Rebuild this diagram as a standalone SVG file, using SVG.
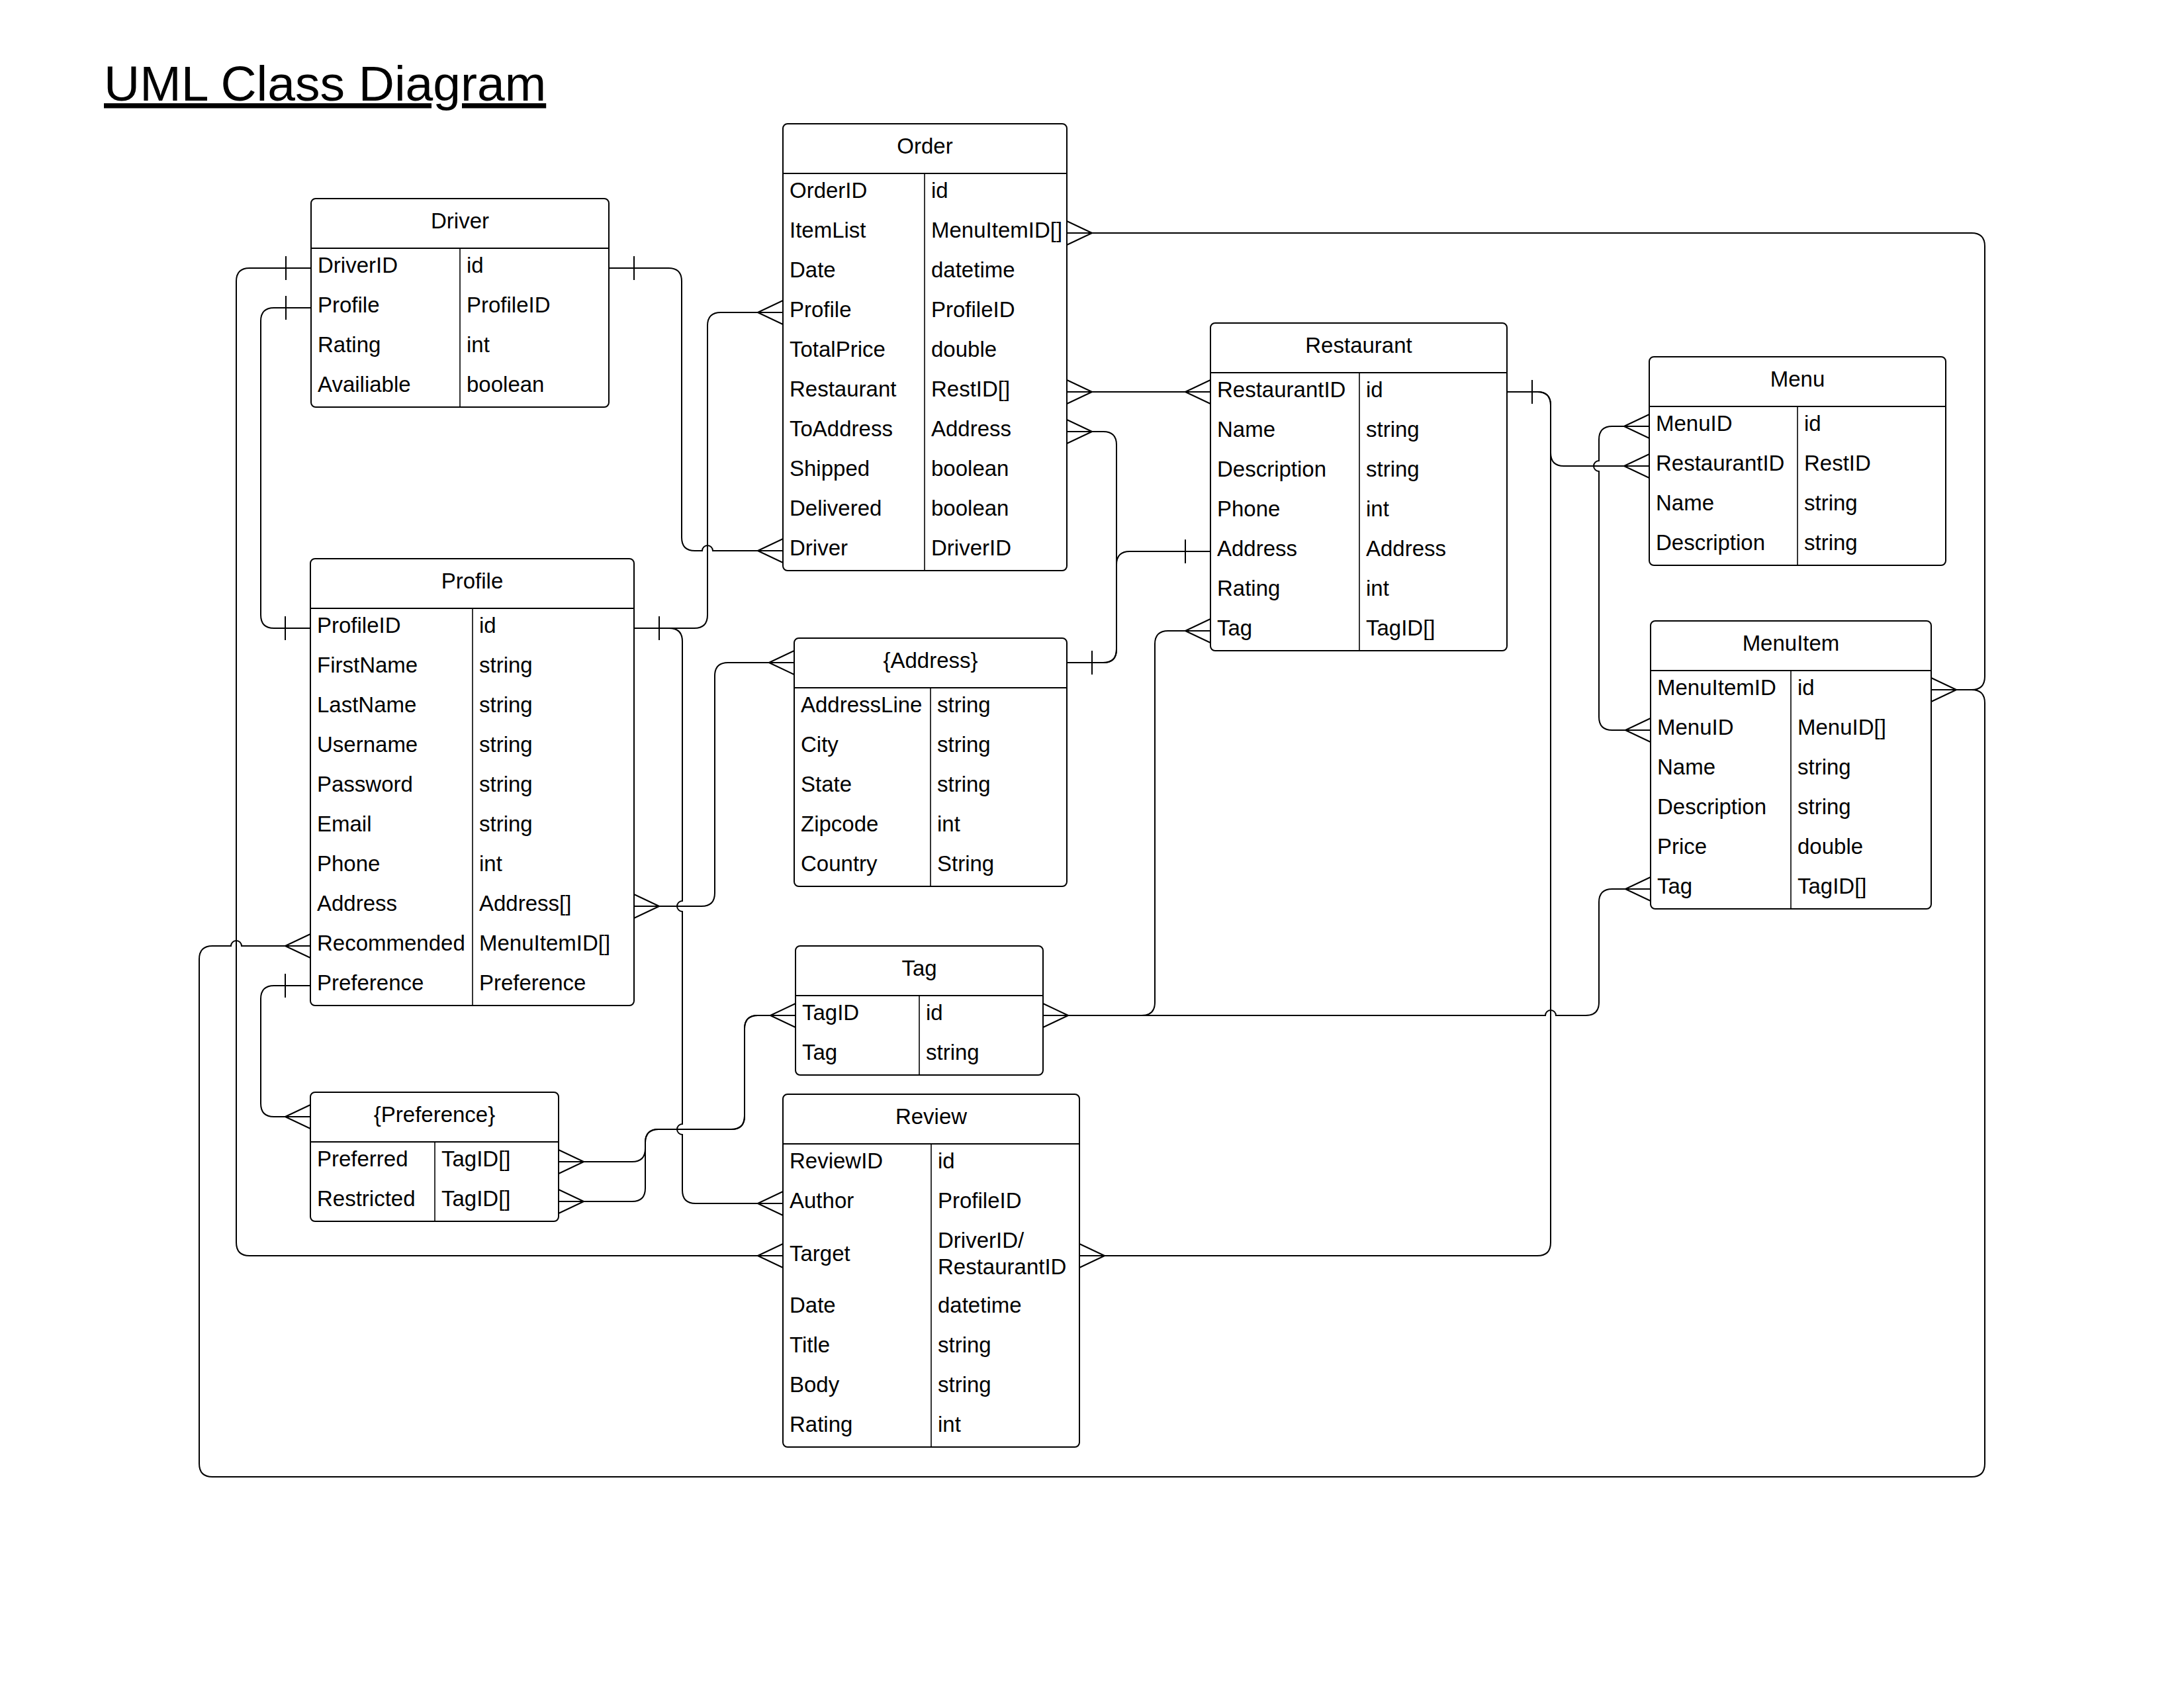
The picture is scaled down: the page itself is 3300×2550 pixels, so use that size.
<svg xmlns="http://www.w3.org/2000/svg" xmlns:xlink="http://www.w3.org/1999/xlink" width="3300" height="2550" viewBox="0 0 3300 2550">
<style>
.bg{fill:#fff}
.box{fill:#fff;stroke:#000;stroke-width:2}
.sep{stroke:#000;stroke-width:2}
.dv{stroke:#000;stroke-width:1.6}
text{font-family:"Liberation Sans",Arial,sans-serif;font-size:33px;fill:#000}
.h{text-anchor:middle}
.title{font-size:75px;text-decoration:underline}
.c{fill:none;stroke:#000;stroke-width:2}
.m{fill:none;stroke:#000;stroke-width:2}
</style>
<defs>
<path id="crowL" class="m" d="M0,-18 L-38,0 M0,18 L-38,0"/>
<path id="crowR" class="m" d="M0,-18 L38,0 M0,18 L38,0"/>
<path id="tickL" class="m" d="M-38,-18 V18"/>
<path id="tickR" class="m" d="M38,-18 V18"/>
</defs>
<rect class="bg" x="0" y="0" width="3300" height="2550"/>
<text class="title" x="157" y="152">UML Class Diagram</text>

<g id="connectors">
<path class="c" d="M470,405 H377 Q357,405 357,425 V1877 Q357,1897 377,1897 H1183"/>
<path class="c" d="M470,465 H414 Q394,465 394,485 V929 Q394,949 414,949 H469"/>
<path class="c" d="M920,405 H1010 Q1030,405 1030,425 V812 Q1030,832 1050,832 H1061 A8,8 0 0 1 1077,832 H1183"/>
<path class="c" d="M958,949 H1049 Q1069,949 1069,929 V492 Q1069,472 1089,472 H1183"/>
<path class="c" d="M958,949 H1011 Q1031,949 1031,969 V1361 A8,8 0 0 0 1031,1377 V1698 A8,8 0 0 0 1031,1714 V1798 Q1031,1818 1051,1818 H1183"/>
<path class="c" d="M958,1369 H1060 Q1080,1369 1080,1349 V1021 Q1080,1001 1100,1001 H1200"/>
<path class="c" d="M469,1429 H365 A8,8 0 0 0 349,1429 H321 Q301,1429 301,1449 V2211 Q301,2231 321,2231 H2979 Q2999,2231 2999,2211 V1062 Q2999,1042 2979,1042 H2919"/>
<path class="c" d="M1612,352 H2979 Q2999,352 2999,372 V1022 Q2999,1042 2979,1042 H2919"/>
<path class="c" d="M469,1489 H414 Q394,1489 394,1509 V1667 Q394,1687 414,1687 H469"/>
<path class="c" d="M844,1755 H955 Q975,1755 975,1735 V1726 Q975,1706 995,1706 H1105 Q1125,1706 1125,1686 V1554 Q1125,1534 1145,1534 H1202"/>
<path class="c" d="M844,1815 H955 Q975,1815 975,1795 V1726 Q975,1706 995,1706 H1105 Q1125,1706 1125,1686 V1554 Q1125,1534 1145,1534 H1202"/>
<path class="c" d="M1576,1534 H1725 Q1745,1534 1745,1514 V973 Q1745,953 1765,953 H1829"/>
<path class="c" d="M1576,1534 H2335 A8,8 0 0 1 2351,1534 H2396 Q2416,1534 2416,1514 V1363 Q2416,1343 2436,1343 H2494"/>
<path class="c" d="M1612,592 H1829"/>
<path class="c" d="M1612,652 H1667 Q1687,652 1687,672 V981 Q1687,1001 1667,1001 H1612"/>
<path class="c" d="M1829,833 H1707 Q1687,833 1687,853 V981 Q1687,1001 1667,1001 H1612"/>
<path class="c" d="M2277,592 H2323 Q2343,592 2343,612 V684 Q2343,704 2363,704 H2492"/>
<path class="c" d="M2277,592 H2323 Q2343,592 2343,612 V1877 Q2343,1897 2323,1897 H1631"/>
<path class="c" d="M2492,644 H2436 Q2416,644 2416,664 V696 A8,8 0 0 0 2416,712 V1083 Q2416,1103 2436,1103 H2494"/>
<use xlink:href="#tickL" x="470" y="405"/>
<use xlink:href="#crowL" x="1183" y="1897"/>
<use xlink:href="#tickL" x="470" y="465"/>
<use xlink:href="#tickL" x="469" y="949"/>
<use xlink:href="#tickR" x="920" y="405"/>
<use xlink:href="#crowL" x="1183" y="832"/>
<use xlink:href="#tickR" x="958" y="949"/>
<use xlink:href="#crowL" x="1183" y="472"/>
<use xlink:href="#crowL" x="1183" y="1818"/>
<use xlink:href="#crowR" x="958" y="1369"/>
<use xlink:href="#crowL" x="1200" y="1001"/>
<use xlink:href="#crowL" x="469" y="1429"/>
<use xlink:href="#crowR" x="2918" y="1042"/>
<use xlink:href="#crowR" x="1612" y="352"/>
<use xlink:href="#tickL" x="469" y="1489"/>
<use xlink:href="#crowL" x="469" y="1687"/>
<use xlink:href="#crowR" x="844" y="1755"/>
<use xlink:href="#crowR" x="844" y="1815"/>
<use xlink:href="#crowL" x="1202" y="1534"/>
<use xlink:href="#crowR" x="1576" y="1534"/>
<use xlink:href="#crowL" x="1829" y="953"/>
<use xlink:href="#crowL" x="2494" y="1343"/>
<use xlink:href="#crowR" x="1612" y="592"/>
<use xlink:href="#crowL" x="1829" y="592"/>
<use xlink:href="#crowR" x="1612" y="652"/>
<use xlink:href="#tickR" x="1612" y="1001"/>
<use xlink:href="#tickL" x="1829" y="833"/>
<use xlink:href="#tickR" x="2277" y="592"/>
<use xlink:href="#crowL" x="2492" y="704"/>
<use xlink:href="#crowR" x="1631" y="1897"/>
<use xlink:href="#crowL" x="2492" y="644"/>
<use xlink:href="#crowL" x="2494" y="1103"/>
</g>

<g id="driver">
<rect class="box" x="470" y="300" width="450" height="315" rx="7"/>
<line class="sep" x1="470" y1="375" x2="920" y2="375"/>
<line class="dv" x1="695" y1="375" x2="695" y2="615"/>
<text class="h" x="695" y="345">Driver</text>
<text x="480" y="412">DriverID</text><text x="705" y="412">id</text>
<text x="480" y="472">Profile</text><text x="705" y="472">ProfileID</text>
<text x="480" y="532">Rating</text><text x="705" y="532">int</text>
<text x="480" y="592">Availiable</text><text x="705" y="592">boolean</text>
</g>

<g id="order">
<rect class="box" x="1183" y="187" width="429" height="675" rx="7"/>
<line class="sep" x1="1183" y1="262" x2="1612" y2="262"/>
<line class="dv" x1="1397" y1="262" x2="1397" y2="862"/>
<text class="h" x="1397.5" y="232">Order</text>
<text x="1193" y="299">OrderID</text><text x="1407" y="299">id</text>
<text x="1193" y="359">ItemList</text><text x="1407" y="359">MenuItemID[]</text>
<text x="1193" y="419">Date</text><text x="1407" y="419">datetime</text>
<text x="1193" y="479">Profile</text><text x="1407" y="479">ProfileID</text>
<text x="1193" y="539">TotalPrice</text><text x="1407" y="539">double</text>
<text x="1193" y="599">Restaurant</text><text x="1407" y="599">RestID[]</text>
<text x="1193" y="659">ToAddress</text><text x="1407" y="659">Address</text>
<text x="1193" y="719">Shipped</text><text x="1407" y="719">boolean</text>
<text x="1193" y="779">Delivered</text><text x="1407" y="779">boolean</text>
<text x="1193" y="839">Driver</text><text x="1407" y="839">DriverID</text>
</g>

<g id="restaurant">
<rect class="box" x="1829" y="488" width="448" height="495" rx="7"/>
<line class="sep" x1="1829" y1="563" x2="2277" y2="563"/>
<line class="dv" x1="2054" y1="563" x2="2054" y2="983"/>
<text class="h" x="2053" y="533">Restaurant</text>
<text x="1839" y="600">RestaurantID</text><text x="2064" y="600">id</text>
<text x="1839" y="660">Name</text><text x="2064" y="660">string</text>
<text x="1839" y="720">Description</text><text x="2064" y="720">string</text>
<text x="1839" y="780">Phone</text><text x="2064" y="780">int</text>
<text x="1839" y="840">Address</text><text x="2064" y="840">Address</text>
<text x="1839" y="900">Rating</text><text x="2064" y="900">int</text>
<text x="1839" y="960">Tag</text><text x="2064" y="960">TagID[]</text>
</g>

<g id="menu">
<rect class="box" x="2492" y="539" width="448" height="315" rx="7"/>
<line class="sep" x1="2492" y1="614" x2="2940" y2="614"/>
<line class="dv" x1="2716" y1="614" x2="2716" y2="854"/>
<text class="h" x="2716" y="584">Menu</text>
<text x="2502" y="651">MenuID</text><text x="2726" y="651">id</text>
<text x="2502" y="711">RestaurantID</text><text x="2726" y="711">RestID</text>
<text x="2502" y="771">Name</text><text x="2726" y="771">string</text>
<text x="2502" y="831">Description</text><text x="2726" y="831">string</text>
</g>

<g id="menuitem">
<rect class="box" x="2494" y="938" width="424" height="435" rx="7"/>
<line class="sep" x1="2494" y1="1013" x2="2918" y2="1013"/>
<line class="dv" x1="2706" y1="1013" x2="2706" y2="1373"/>
<text class="h" x="2706" y="983">MenuItem</text>
<text x="2504" y="1050">MenuItemID</text><text x="2716" y="1050">id</text>
<text x="2504" y="1110">MenuID</text><text x="2716" y="1110">MenuID[]</text>
<text x="2504" y="1170">Name</text><text x="2716" y="1170">string</text>
<text x="2504" y="1230">Description</text><text x="2716" y="1230">string</text>
<text x="2504" y="1290">Price</text><text x="2716" y="1290">double</text>
<text x="2504" y="1350">Tag</text><text x="2716" y="1350">TagID[]</text>
</g>

<g id="profile">
<rect class="box" x="469" y="844" width="489" height="675" rx="7"/>
<line class="sep" x1="469" y1="919" x2="958" y2="919"/>
<line class="dv" x1="714" y1="919" x2="714" y2="1519"/>
<text class="h" x="713.5" y="889">Profile</text>
<text x="479" y="956">ProfileID</text><text x="724" y="956">id</text>
<text x="479" y="1016">FirstName</text><text x="724" y="1016">string</text>
<text x="479" y="1076">LastName</text><text x="724" y="1076">string</text>
<text x="479" y="1136">Username</text><text x="724" y="1136">string</text>
<text x="479" y="1196">Password</text><text x="724" y="1196">string</text>
<text x="479" y="1256">Email</text><text x="724" y="1256">string</text>
<text x="479" y="1316">Phone</text><text x="724" y="1316">int</text>
<text x="479" y="1376">Address</text><text x="724" y="1376">Address[]</text>
<text x="479" y="1436">Recommended</text><text x="724" y="1436">MenuItemID[]</text>
<text x="479" y="1496">Preference</text><text x="724" y="1496">Preference</text>
</g>

<g id="address">
<rect class="box" x="1200" y="964" width="412" height="375" rx="7"/>
<line class="sep" x1="1200" y1="1039" x2="1612" y2="1039"/>
<line class="dv" x1="1406" y1="1039" x2="1406" y2="1339"/>
<text class="h" x="1406" y="1009">{Address}</text>
<text x="1210" y="1076">AddressLine</text><text x="1416" y="1076">string</text>
<text x="1210" y="1136">City</text><text x="1416" y="1136">string</text>
<text x="1210" y="1196">State</text><text x="1416" y="1196">string</text>
<text x="1210" y="1256">Zipcode</text><text x="1416" y="1256">int</text>
<text x="1210" y="1316">Country</text><text x="1416" y="1316">String</text>
</g>

<g id="tag">
<rect class="box" x="1202" y="1429" width="374" height="195" rx="7"/>
<line class="sep" x1="1202" y1="1504" x2="1576" y2="1504"/>
<line class="dv" x1="1389" y1="1504" x2="1389" y2="1624"/>
<text class="h" x="1389" y="1474">Tag</text>
<text x="1212" y="1541">TagID</text><text x="1399" y="1541">id</text>
<text x="1212" y="1601">Tag</text><text x="1399" y="1601">string</text>
</g>

<g id="preference">
<rect class="box" x="469" y="1650" width="375" height="195" rx="7"/>
<line class="sep" x1="469" y1="1725" x2="844" y2="1725"/>
<line class="dv" x1="657" y1="1725" x2="657" y2="1845"/>
<text class="h" x="656.5" y="1695">{Preference}</text>
<text x="479" y="1762">Preferred</text><text x="667" y="1762">TagID[]</text>
<text x="479" y="1822">Restricted</text><text x="667" y="1822">TagID[]</text>
</g>

<g id="review">
<rect class="box" x="1183" y="1653" width="448" height="533" rx="7"/>
<line class="sep" x1="1183" y1="1728" x2="1631" y2="1728"/>
<line class="dv" x1="1407" y1="1728" x2="1407" y2="2186"/>
<text class="h" x="1407" y="1698">Review</text>
<text x="1193" y="1765">ReviewID</text><text x="1417" y="1765">id</text>
<text x="1193" y="1825">Author</text><text x="1417" y="1825">ProfileID</text>
<text x="1193" y="1905">Target</text><text x="1417" y="1885">DriverID/</text><text x="1417" y="1925">RestaurantID</text>
<text x="1193" y="1983">Date</text><text x="1417" y="1983">datetime</text>
<text x="1193" y="2043">Title</text><text x="1417" y="2043">string</text>
<text x="1193" y="2103">Body</text><text x="1417" y="2103">string</text>
<text x="1193" y="2163">Rating</text><text x="1417" y="2163">int</text>
</g>
</svg>
